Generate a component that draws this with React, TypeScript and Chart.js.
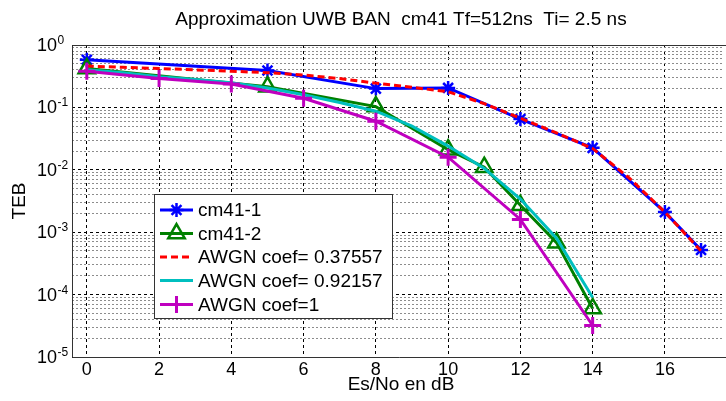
import React, { useEffect, useRef } from 'react';
import { Chart, registerables } from 'chart.js';

Chart.register(...registerables);

const TITLE = 'Approximation UWB BAN  cm41 Tf=512ns  Ti= 2.5 ns';
const X_LABEL = 'Es/No en dB';
const Y_LABEL = 'TEB';
const X_TICKS = [0, 2, 4, 6, 8, 10, 12, 14, 16];
const Y_DECADES = [1e-5, 1e-4, 1e-3, 1e-2, 1e-1, 1];
const Y_TICK_BASE = '10';
const Y_TICK_EXPONENTS = ['-5', '-4', '-3', '-2', '-1', '0'];
const Y_MINOR_STEPS = [2, 3, 4, 5, 6, 7, 8, 9];

const SERIES_LABELS = ['cm41-1', 'cm41-2', 'AWGN coef= 0.37557', 'AWGN coef= 0.92157', 'AWGN coef=1'];

const CM1_X = [0, 5, 8, 10, 12, 14, 16, 17];
const CM1_Y = [0.58, 0.39, 0.2, 0.205, 0.065, 0.0225, 0.0021, 0.00052];

const CM2_X = [0, 5, 8, 10, 11, 12, 13, 14];
const CM2_Y = [0.42, 0.215, 0.103, 0.021, 0.011, 0.0027, 0.00068, 0.00006];

const AWGN1_X = [0, 1, 2, 3, 4, 5, 6, 7, 8, 9, 10, 11, 12, 13, 14, 15, 16, 17];
const AWGN1_Y = [0.46, 0.44, 0.42, 0.4, 0.38, 0.36, 0.33, 0.29, 0.245, 0.21, 0.178, 0.115, 0.067, 0.039, 0.022, 0.0075, 0.0021, 0.0005];

const AWGN2_X = [0, 1, 2, 3, 4, 5, 6, 7, 8, 9, 10, 11, 12, 13, 14];
const AWGN2_Y = [0.4, 0.36, 0.31, 0.28, 0.249, 0.205, 0.16, 0.12, 0.087, 0.05, 0.024, 0.0105, 0.0034, 0.0008, 0.00009];

const AWGN3_X = [0, 2, 4, 6, 8, 10, 12, 14];
const AWGN3_Y = [0.38, 0.29, 0.237, 0.14, 0.06, 0.0159, 0.0016, 0.000032];

const FONT = "'Liberation Sans', Arial, sans-serif";
const BLUE = '#0000ff';
const GREEN = '#008000';
const RED = '#ff0000';
const CYAN = '#00bfbf';
const MAGENTA = '#bf00bf';

const toPts = (xs: number[], ys: number[]) => xs.map((x, i) => ({ x, y: ys[i] }));
const isDecade = (v: number) => Math.abs(Math.log10(v) - Math.round(Math.log10(v))) < 1e-6;

function drawMarker(ctx: CanvasRenderingContext2D, style: string, x: number, y: number, r: number, color: string, lw: number) {
  ctx.save();
  ctx.strokeStyle = color;
  ctx.lineWidth = lw;
  ctx.setLineDash([]);
  ctx.beginPath();
  if (style === 'star') {
    ctx.moveTo(x - r, y); ctx.lineTo(x + r, y);
    ctx.moveTo(x, y - r); ctx.lineTo(x, y + r);
    const d = r * Math.cos(Math.PI / 4);
    ctx.moveTo(x - d, y - d); ctx.lineTo(x + d, y + d);
    ctx.moveTo(x - d, y + d); ctx.lineTo(x + d, y - d);
  } else if (style === 'triangle') {
    let rad = 0;
    ctx.moveTo(x + Math.sin(rad) * r, y - Math.cos(rad) * r);
    rad += (2 * Math.PI) / 3;
    ctx.lineTo(x + Math.sin(rad) * r, y - Math.cos(rad) * r);
    rad += (2 * Math.PI) / 3;
    ctx.lineTo(x + Math.sin(rad) * r, y - Math.cos(rad) * r);
    ctx.closePath();
  } else if (style === 'cross') {
    ctx.moveTo(x - r, y); ctx.lineTo(x + r, y);
    ctx.moveTo(x, y - r); ctx.lineTo(x, y + r);
  }
  ctx.stroke();
  ctx.restore();
}

const decorPlugin = {
  id: 'decor',
  afterDatasetsDraw(chart: any) {
    const ctx: CanvasRenderingContext2D = chart.ctx;
    const a = chart.chartArea;
    ctx.save();
    // axes box
    ctx.strokeStyle = '#333';
    ctx.lineWidth = 1;
    ctx.setLineDash([]);
    ctx.beginPath();
    ctx.moveTo(a.right + 5, a.top + 0.5);
    ctx.lineTo(a.left + 0.5, a.top + 0.5);
    ctx.lineTo(a.left + 0.5, a.bottom + 0.5);
    ctx.lineTo(a.right + 5, a.bottom + 0.5);
    ctx.stroke();

    // legend box
    const lx = 154, ly = 194, lw = 238, lh = 124;
    ctx.fillStyle = '#fff';
    ctx.fillRect(lx, ly, lw, lh);
    ctx.strokeStyle = '#333';
    ctx.strokeRect(lx + 0.5, ly + 0.5, lw, lh);
    const rowY = [210, 233.5, 257, 280.5, 304.5];
    ctx.font = `19px ${FONT}`;
    ctx.textBaseline = 'middle';
    ctx.textAlign = 'left';
    chart.data.datasets.forEach((ds: any, i: number) => {
      const y = rowY[i];
      ctx.save();
      ctx.strokeStyle = ds.borderColor;
      ctx.lineWidth = ds.borderWidth;
      ctx.setLineDash(ds.borderDash || []);
      ctx.beginPath();
      ctx.moveTo(160, y);
      ctx.lineTo(193, y);
      ctx.stroke();
      ctx.restore();
      if (ds.pointStyle && ds.pointRadius > 0) {
        drawMarker(ctx, ds.pointStyle, 176.5, y, ds.pointRadius, ds.borderColor, ds.pointBorderWidth);
      }
      ctx.fillStyle = '#000';
      ctx.fillText(ds.label, 198, y + 1);
    });
    ctx.restore();
  },
  afterDraw(chart: any) {
    const ctx: CanvasRenderingContext2D = chart.ctx;
    const a = chart.chartArea;
    const ys = chart.scales.y;
    ctx.save();
    ctx.fillStyle = '#000';
    // y tick labels: 10 with raised exponent
    ctx.textAlign = 'left';
    Y_DECADES.forEach((d, i) => {
      const py = ys.getPixelForValue(d);
      ctx.font = `18px ${FONT}`;
      ctx.textBaseline = 'middle';
      ctx.fillText(Y_TICK_BASE, 37, py + 1);
      const w = ctx.measureText(Y_TICK_BASE).width;
      ctx.font = `12px ${FONT}`;
      ctx.textBaseline = 'alphabetic';
      ctx.fillText(Y_TICK_EXPONENTS[i], 37 + w + 0.5, py - 1);
    });
    ctx.font = `19px ${FONT}`;
    ctx.textAlign = 'center';
    ctx.textBaseline = 'middle';
    ctx.fillText(TITLE, 401, 20);
    ctx.fillText(X_LABEL, 401, 385);
    ctx.translate(20, (a.top + a.bottom) / 2);
    ctx.rotate(-Math.PI / 2);
    ctx.fillText(Y_LABEL, 0, 0);
    ctx.restore();
  },
};

export default function App() {
  const ref = useRef<HTMLCanvasElement>(null);
  useEffect(() => {
    if (!ref.current) return;
    const chart = new Chart(ref.current, {
      type: 'line',
      data: {
        datasets: [
          {
            label: SERIES_LABELS[0], data: toPts(CM1_X, CM1_Y), borderColor: BLUE, backgroundColor: BLUE,
            borderWidth: 3, pointStyle: 'star', pointRadius: 7, pointBorderWidth: 2.5, pointBorderColor: BLUE, order: 4,
          },
          {
            label: SERIES_LABELS[1], data: toPts(CM2_X, CM2_Y), borderColor: GREEN, backgroundColor: 'rgba(0,0,0,0)',
            borderWidth: 3, pointStyle: 'triangle', pointRadius: 9.5, pointBorderWidth: 2.5, pointBorderColor: GREEN,
            pointBackgroundColor: 'rgba(0,0,0,0)', order: 3,
          },
          {
            label: SERIES_LABELS[2], data: toPts(AWGN1_X, AWGN1_Y), borderColor: RED, backgroundColor: RED,
            borderWidth: 3, borderDash: [7, 4], pointRadius: 0, order: 2,
          },
          {
            label: SERIES_LABELS[3], data: toPts(AWGN2_X, AWGN2_Y), borderColor: CYAN, backgroundColor: CYAN,
            borderWidth: 3, pointRadius: 0, order: 1,
          },
          {
            label: SERIES_LABELS[4], data: toPts(AWGN3_X, AWGN3_Y), borderColor: MAGENTA, backgroundColor: MAGENTA,
            borderWidth: 3, pointStyle: 'cross', pointRadius: 8.5, pointBorderWidth: 3, pointBorderColor: MAGENTA, order: 0,
          },
        ] as any,
      },
      options: {
        responsive: false,
        devicePixelRatio: 1,
        animation: false,
        layout: { padding: { top: 45, right: 1, left: 0, bottom: 0 } },
        plugins: { legend: { display: false }, title: { display: false }, tooltip: { enabled: false } },
        elements: { line: { tension: 0 } },
        scales: {
          x: {
            type: 'linear',
            min: -0.41,
            max: 17.58,
            afterBuildTicks: (s: any) => { s.ticks = X_TICKS.map((v) => ({ value: v })); },
            afterFit: (s: any) => { s.height = 44; },
            grid: { color: '#000', lineWidth: 1, drawTicks: false },
            border: { display: false, dash: [3, 3] },
            ticks: {
              color: '#000', padding: 2, maxRotation: 0, autoSkip: false,
              font: { family: FONT, size: 18 },
              callback: (v: any) => String(v),
            },
          },
          y: {
            type: 'logarithmic',
            min: 1e-5,
            max: 1,
            afterBuildTicks: (s: any) => {
              const t: any[] = [];
              for (let k = 0; k < Y_DECADES.length; k++) {
                const d = Y_DECADES[k];
                t.push({ value: d });
                if (k < Y_DECADES.length - 1) Y_MINOR_STEPS.forEach((m) => t.push({ value: m * d }));
              }
              s.ticks = t;
            },
            afterFit: (s: any) => { s.width = 72; },
            grid: {
              color: (c: any) => (c.tick && isDecade(c.tick.value) ? '#000' : '#8c8c8c'),
              lineWidth: 1,
              drawTicks: false,
            },
            border: {
              display: false,
              dash: (c: any) => (c.tick && isDecade(c.tick.value) ? [3, 3] : [2, 2]),
            },
            ticks: { display: false, autoSkip: false },
          },
        },
      },
      plugins: [decorPlugin],
    } as any);
    return () => chart.destroy();
  }, []);
  return (
    <div style={{ position: 'fixed', left: 0, top: 0, width: 726, height: 401, overflow: 'hidden', background: '#fff' }}>
      <canvas ref={ref} width={734} height={401} style={{ display: 'block', width: 734, height: 401 }} />
    </div>
  );
}
